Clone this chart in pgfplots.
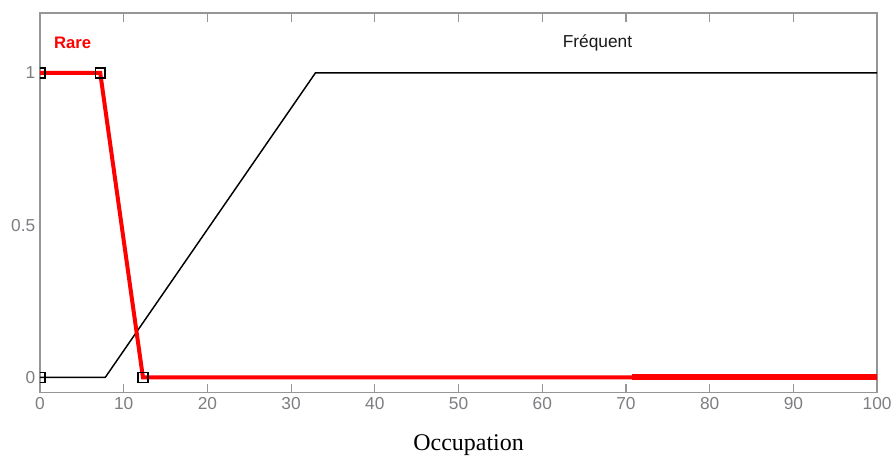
\documentclass[border=0pt]{standalone}
\usepackage{pgfplots}
\pgfplotsset{compat=1.18}
\usepackage{fontspec}
\setmainfont{Liberation Sans}
\newfontfamily\timesfont{Liberation Serif}
\definecolor{axgray}{RGB}{150,150,150}
\definecolor{lblgray}{RGB}{125,125,130}
\definecolor{rred}{RGB}{255,0,0}
\begin{document}
\begin{tikzpicture}
\begin{axis}[
  scale only axis,
  width=628.5pt, height=285pt,
  xmin=0, xmax=100, ymin=-0.05, ymax=1.197,
  xtick={0,10,...,100}, ytick={0,0.5,1},
  tick align=inside,
  xtick pos=both, ytick pos=left,
  major tick length=6.5pt,
  ytick style={draw=none},
  xtick style={draw=axgray, line width=0.9pt},
  axis line style={draw=axgray, line width=1pt},
  tick label style={font=\fontsize{13}{15}\selectfont, text=lblgray},
  /pgf/number format/assume math mode=true,
  xlabel={\timesfont\fontsize{18}{20}\selectfont Occupation},
  xlabel style={at={(axis description cs:0.512,0)}, anchor=north, yshift=-28pt, text=black},
  clip marker paths=true,
]
% Frequent (black)
\addplot[black, line width=1.1pt, mark=square, mark size=3.7pt, mark options={line width=1.1pt, fill=none}, mark indices={1}] coordinates {(0,0) (7.8,0) (32.9,1) (100,1)};
% Rare (red)
\addplot[rred, line width=3pt, mark=square, mark size=3.7pt, mark options={draw=black, line width=1.1pt, fill=none}, mark indices={1,2,3}] coordinates {(0,1) (7.2,1) (12.3,0) (100,0)};
\addplot[rred, line width=4.5pt, forget plot] coordinates {(70.7,0) (100,0)};
\node[text=rred, font=\fontsize{12.5}{14}\selectfont\bfseries, anchor=center] at (axis cs:3.9,1.10) {Rare};
\node[text=black!90, font=\fontsize{13}{15}\selectfont, anchor=center] at (axis cs:66.6,1.10) {Fréquent};
\end{axis}
\path (current axis.south west) ++(-30pt,-51.75pt) rectangle ([shift={(13.5pt,9.75pt)}]current axis.north east);
\end{tikzpicture}
\end{document}
